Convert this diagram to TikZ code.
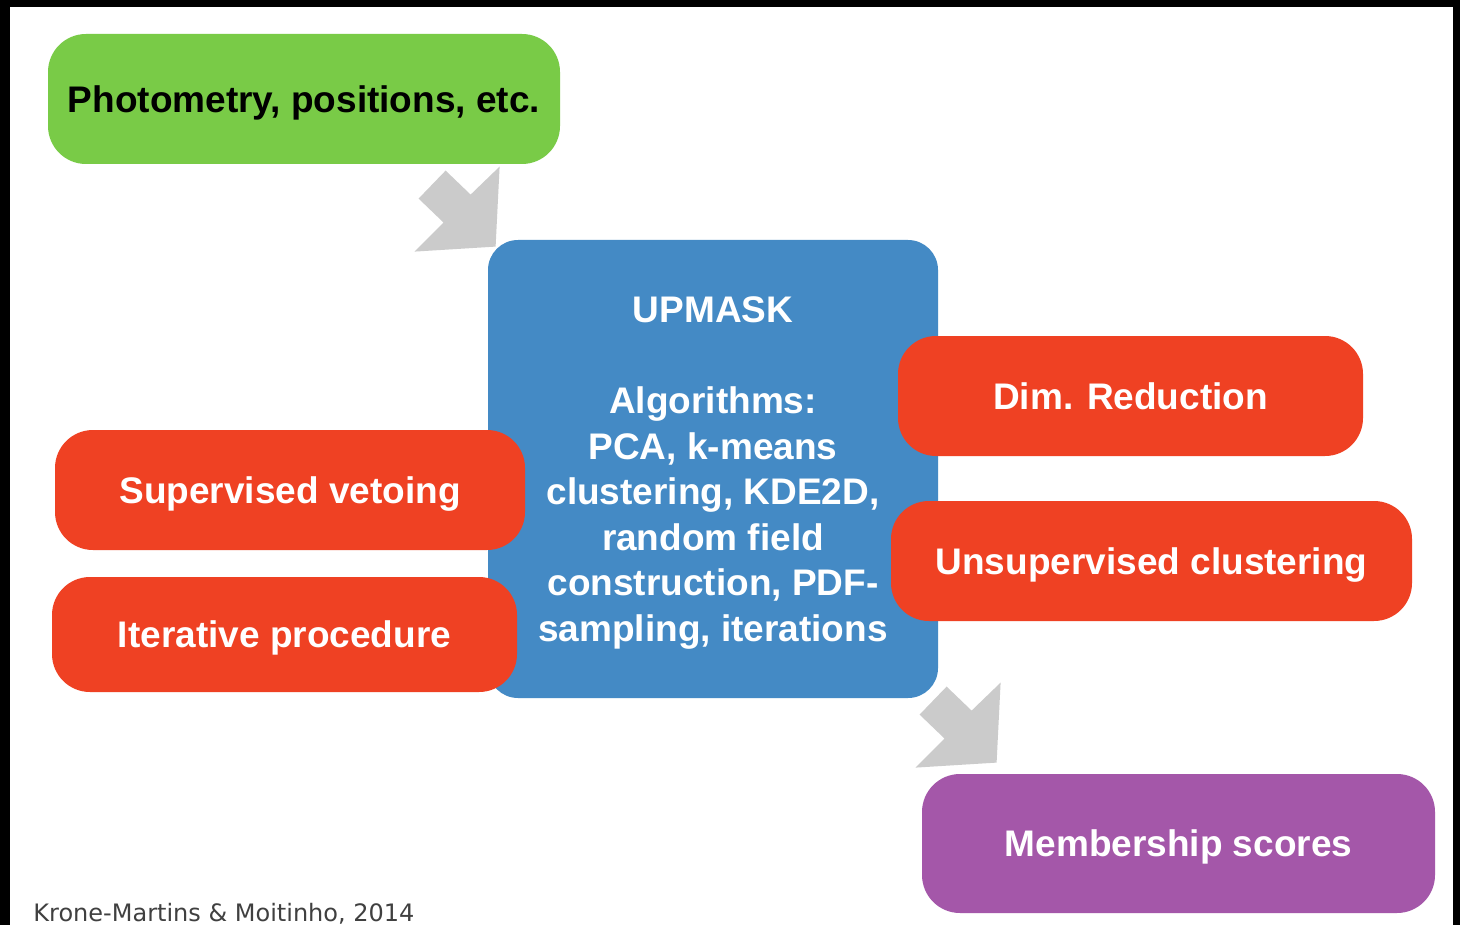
\documentclass[tikz,border=0pt]{standalone}
\usepackage{fontspec}
\setmainfont{Liberation Sans}
\newfontfamily\creditfont{DejaVu Sans}
\usetikzlibrary{calc,positioning}

\begin{document}
\begin{tikzpicture}[x=0.5pt,y=-0.5pt]
  \definecolor{boxgreen}{RGB}{121,203,71}
  \definecolor{boxblue}{RGB}{68,138,197}
  \definecolor{boxred}{RGB}{239,65,35}
  \definecolor{boxpurple}{RGB}{164,87,169}
  \definecolor{arrowgray}{RGB}{203,203,203}
  \definecolor{creditgray}{RGB}{64,64,64}
  \tikzset{box/.style={rounded corners=19pt,inner sep=0pt,align=center,text=white,text depth=0pt,
      font=\fontsize{18.5}{22.75}\selectfont\bfseries},
    fatarrow/.pic={\fill[arrowgray] (0,0) -- (-81,5) -- (-52,-24) -- (-77,-48)
      -- (-50,-76) -- (-25,-52) -- (4,-80) -- cycle;}}
  \useasboundingbox (0,0) rectangle (1460,925);
  \fill[black] (0,0) rectangle (1460,925);
  \fill[white] (10,7) rectangle (1453,925);
  \node[box,fill=boxgreen,text=black,minimum width=256pt,minimum height=65pt] (data) at (304,99) {Photometry, positions, etc.};
  \node[box,fill=boxblue,rounded corners=15pt,minimum width=225pt,minimum height=229pt] (upmask) at (713,469)
    {UPMASK\\[22.75pt]Algorithms:\\PCA, k-means\\clustering, KDE2D,\\random field\\construction, PDF-\\sampling, iterations};
  \node[box,fill=boxred,minimum width=232.5pt,minimum height=60pt] (dimred) at (1130.5,396) {Dim. Reduction};
  \node[box,fill=boxred,minimum width=260.5pt,minimum height=60pt] (unsup) at (1151.5,561) {Unsupervised clustering};
  \node[box,fill=boxred,minimum width=235pt,minimum height=60pt] (veto) at (290,490) {Supervised vetoing};
  \node[box,fill=boxred,minimum width=232.5pt,minimum height=57.5pt] (iter) at (284.5,634.5) {Iterative procedure};
  \node[box,fill=boxpurple,minimum width=256.5pt,minimum height=69.5pt] (member) at (1178.5,843.5) {Membership scores};
  % block arrows
  \pic at ($(upmask.north west)+(8,7)$) {fatarrow};
  \pic at ($(member.north west)+(75,-11)$) {fatarrow};
  \node[creditgray,font=\creditfont\fontsize{12}{12}\selectfont,anchor=base west,inner sep=0pt] (credit) at (33,921)
    {Krone-Martins \& Moitinho, 2014};
\end{tikzpicture}
\end{document}
